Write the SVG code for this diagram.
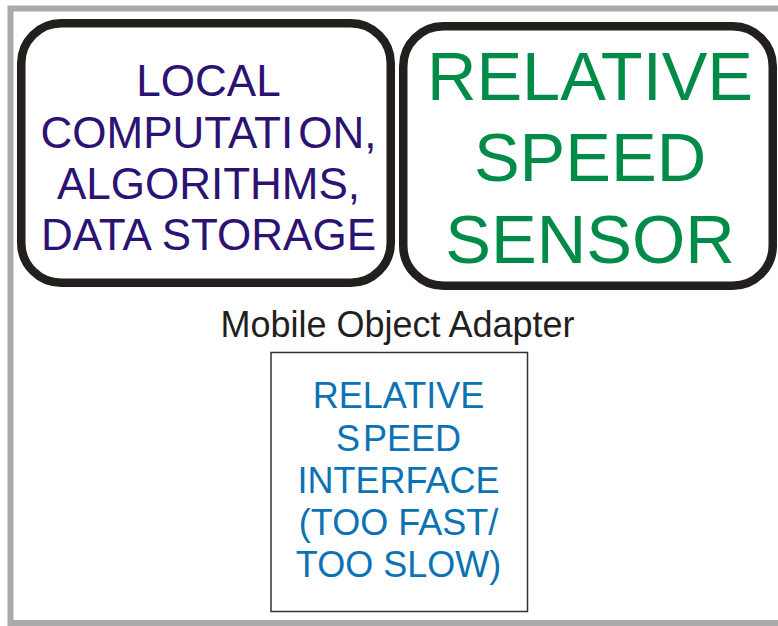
<svg xmlns="http://www.w3.org/2000/svg" width="778" height="626" viewBox="0 0 778 626">
  <style>
    .frame { fill: none; stroke: #aaaaaa; stroke-width: 6; }
    .module { fill: #ffffff; stroke: #221f1c; stroke-width: 8.5; }
    .iface { fill: #ffffff; stroke: #333333; stroke-width: 1.5; }
    text { font-family: "Liberation Sans", Arial, sans-serif; text-anchor: middle; }
    .purple { fill: #2c1272; font-size: 44px; }
    .green { fill: #008c48; font-size: 68.5px; }
    .blue { fill: #0b72b3; font-size: 36px; }
    .title { fill: #231f20; font-size: 36px; }
  </style>

  <rect width="778" height="626" fill="#ffffff"/>

  <!-- outer adapter frame, continues past the right edge -->
  <rect class="frame" x="10.5" y="8.5" width="790" height="614.5"/>

  <g id="local-computation">
    <rect class="module" x="21.25" y="23.25" width="369.5" height="259.5" rx="40" ry="40"/>
    <text class="purple" x="208.5" y="96">LOCAL</text>
    <text class="purple" x="208.5" y="148">COMPUTATI<tspan dx="5">ON,</tspan></text>
    <text class="purple" x="208.5" y="199">ALGORITHMS,</text>
    <text class="purple" x="208.5" y="250">DATA STORAGE</text>
  </g>

  <g id="relative-speed-sensor">
    <rect class="module" x="403.25" y="26.25" width="369.5" height="259.5" rx="40" ry="40"/>
    <text class="green" x="590" y="100">RELATIVE</text>
    <text class="green" x="590" y="181">SPEED</text>
    <text class="green" x="590" y="263">SENSOR</text>
  </g>

  <g id="adapter-label">
    <text class="title" x="397.5" y="336.5">Mobile Object Adapter</text>
  </g>

  <g id="relative-speed-interface">
    <rect class="iface" x="271" y="352.5" width="256.5" height="259"/>
    <text class="blue" x="398.5" y="408">RELATIVE</text>
    <text class="blue" x="398.5" y="451">S<tspan dx="3">PEED</tspan></text>
    <text class="blue" x="398.5" y="493">INTERFACE</text>
    <text class="blue" x="398.5" y="535">(TOO FAST/</text>
    <text class="blue" x="398.5" y="577">TOO SLOW)</text>
  </g>

  <g id="connectors"/>
</svg>
